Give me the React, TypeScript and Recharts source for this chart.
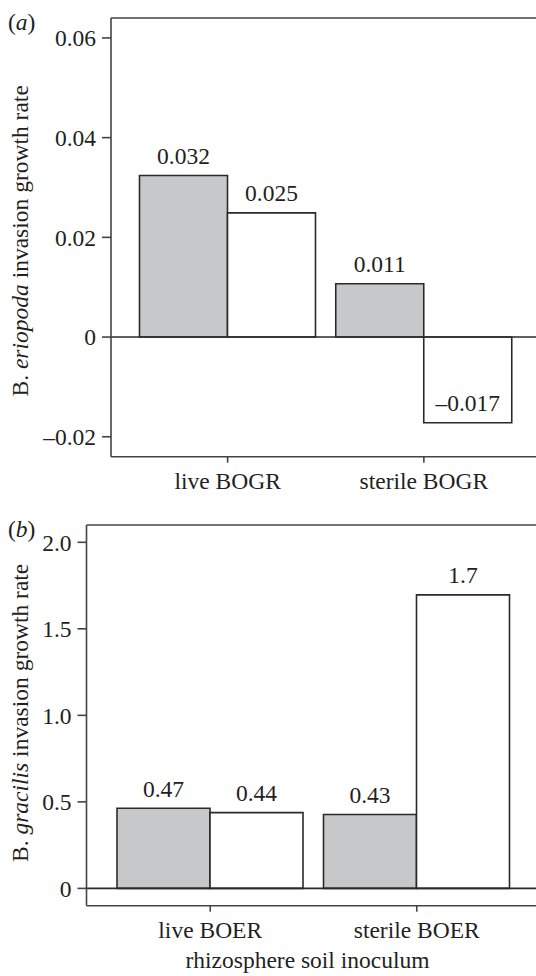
import React from 'react';
import { BarChart, Bar, XAxis, YAxis, ReferenceLine, LabelList, Label } from 'recharts';

// ---------- data ----------
const categoriesA = ['live BOGR', 'sterile BOGR'];
const grayValuesA = [0.0324, 0.0107];
const whiteValuesA = [0.0249, -0.0172];
const grayLabelsA = ['0.032', '0.011'];
const whiteLabelsA = ['0.025', '\u20130.017'];
const yTicksA = [-0.02, 0, 0.02, 0.04, 0.06];
const yTickLabelsA = ['\u20130.02', '0', '0.02', '0.04', '0.06'];
const yDomainA = [-0.024, 0.064];

const categoriesB = ['live BOER', 'sterile BOER'];
const grayValuesB = [0.463, 0.427];
const whiteValuesB = [0.438, 1.696];
const grayLabelsB = ['0.47', '0.43'];
const whiteLabelsB = ['0.44', '1.7'];
const yTicksB = [0, 0.5, 1.0, 1.5, 2.0];
const yTickLabelsB = ['0', '0.5', '1.0', '1.5', '2.0'];
const yDomainB = [-0.1, 2.1];

const FONT = '"Liberation Serif", "Times New Roman", serif';
const FS = 23.5;
const TEXT = '#231f20';
const AXIS = '#444';
const BAR_STROKE = '#2a2a2a';
const GRAY = '#c7c8ca';

function makeBarLabel(values: number[], labels: string[]) {
  return (props: any) => {
    const vb = props.viewBox && props.viewBox.width !== undefined ? props.viewBox : props;
    const x = Number(vb.x ?? props.x);
    const y = Number(vb.y ?? props.y);
    const w = Number(vb.width ?? props.width);
    const h = Number(vb.height ?? props.height);
    const idx = props.index ?? 0;
    const v = values[idx];
    const top = Math.min(y, y + h);
    const bottom = Math.max(y, y + h);
    const end = v >= 0 ? top : bottom;
    return (
      <text x={x + w / 2} y={end - 11.5} textAnchor="middle" fontFamily={FONT} fontSize={FS} fill={TEXT}>
        {labels[idx]}
      </text>
    );
  };
}

function makeYTitle(panel: string, species: string, shift: number) {
  return (props: any) => {
    const vb = props.viewBox || {};
    const cy = vb.y + vb.height / 2 + shift;
    const tx = 28;
    return (
      <g>
        <text x={8} y={vb.y + 11.5} fontFamily={FONT} fontSize={FS} fill={TEXT}>
          <tspan>(</tspan>
          <tspan fontStyle="italic">{panel}</tspan>
          <tspan>)</tspan>
        </text>
        <text
          x={tx}
          y={cy}
          transform={`rotate(-90, ${tx}, ${cy})`}
          textAnchor="middle"
          fontFamily={FONT}
          fontSize={FS}
          fill={TEXT}
        >
          <tspan>B. </tspan>
          <tspan fontStyle="italic">{species}</tspan>
          <tspan> invasion growth rate</tspan>
        </text>
      </g>
    );
  };
}

function xTitle(props: any) {
  const vb = props.viewBox || {};
  return (
    <text
      x={vb.x + vb.width / 2 - 6}
      y={vb.y + 62.5}
      textAnchor="middle"
      fontFamily={FONT}
      fontSize={FS}
      fill={TEXT}
    >
      rhizosphere soil inoculum
    </text>
  );
}

type PanelProps = {
  categories: string[];
  grayValues: number[];
  whiteValues: number[];
  grayLabels: string[];
  whiteLabels: string[];
  yTicks: number[];
  yTickLabels: string[];
  yDomain: number[];
  panel: string;
  species: string;
  yAxisWidth: number;
  marginTop: number;
  height: number;
  xAxisHeight: number;
  xPad: number;
  barSize: number;
  titleShift: number;
  showXTitle: boolean;
};

function Panel(p: PanelProps) {
  const data = p.categories.map((c, i) => ({ cat: c, gray: p.grayValues[i], white: p.whiteValues[i] }));
  const tickStyle = { fill: TEXT, fontFamily: FONT, fontSize: FS };
  return (
    <BarChart
      width={560}
      height={p.height}
      data={data}
      margin={{ top: p.marginTop, right: 19.5, left: 0, bottom: 0 }}
      barGap={0}
      barSize={p.barSize}
    >
      <XAxis
        dataKey="cat"
        height={p.xAxisHeight}
        padding={{ left: p.xPad, right: p.xPad }}
        tickSize={6}
        tickMargin={10}
        axisLine={{ stroke: AXIS, strokeWidth: 1.6 }}
        tickLine={{ stroke: AXIS, strokeWidth: 1.6 }}
        tick={tickStyle}
      >
        {p.showXTitle ? <Label content={xTitle} /> : null}
      </XAxis>
      <YAxis
        width={p.yAxisWidth}
        domain={p.yDomain}
        ticks={p.yTicks}
        allowDataOverflow
        interval={0}
        tickFormatter={(v: number) => {
          const i = p.yTicks.findIndex((t) => Math.abs(t - v) < 1e-9);
          return i >= 0 ? p.yTickLabels[i] : String(v);
        }}
        tickSize={9}
        tickMargin={6}
        axisLine={{ stroke: AXIS, strokeWidth: 1.6 }}
        tickLine={{ stroke: AXIS, strokeWidth: 1.6 }}
        tick={tickStyle}
      >
        <Label content={makeYTitle(p.panel, p.species, p.titleShift)} />
      </YAxis>
      <ReferenceLine y={p.yDomain[1]} stroke={AXIS} strokeWidth={1.6} />
      <ReferenceLine y={0} stroke={BAR_STROKE} strokeWidth={1.6} />
      <Bar dataKey="gray" fill={GRAY} stroke={BAR_STROKE} strokeWidth={1.6} isAnimationActive={false}>
        <LabelList dataKey="gray" content={makeBarLabel(p.grayValues, p.grayLabels)} />
      </Bar>
      <Bar dataKey="white" fill="#ffffff" stroke={BAR_STROKE} strokeWidth={1.6} isAnimationActive={false}>
        <LabelList dataKey="white" content={makeBarLabel(p.whiteValues, p.whiteLabels)} />
      </Bar>
    </BarChart>
  );
}

export default function App() {
  return (
    <div
      style={{
        position: 'fixed',
        left: 0,
        top: 0,
        width: 536,
        height: 976,
        overflow: 'hidden',
        background: '#ffffff',
      }}
    >
      <div style={{ position: 'absolute', left: 0, top: 0 }}>
        <Panel
          categories={categoriesA}
          grayValues={grayValuesA}
          whiteValues={whiteValuesA}
          grayLabels={grayLabelsA}
          whiteLabels={whiteLabelsA}
          yTicks={yTicksA}
          yTickLabels={yTickLabelsA}
          yDomain={yDomainA}
          panel="a"
          species="eriopoda"
          yAxisWidth={111}
          marginTop={18}
          height={500}
          xAxisHeight={43.3}
          xPad={18.5}
          barSize={88}
          titleShift={3.5}
          showXTitle={false}
        />
      </div>
      <div style={{ position: 'absolute', left: 0, top: 490 }}>
        <Panel
          categories={categoriesB}
          grayValues={grayValuesB}
          whiteValues={whiteValuesB}
          grayLabels={grayLabelsB}
          whiteLabels={whiteLabelsB}
          yTicks={yTicksB}
          yTickLabels={yTickLabelsB}
          yDomain={yDomainB}
          panel="b"
          species="gracilis"
          yAxisWidth={86.5}
          marginTop={35}
          height={486}
          xAxisHeight={70.3}
          xPad={20.5}
          barSize={93}
          titleShift={-2.5}
          showXTitle={true}
        />
      </div>
    </div>
  );
}
